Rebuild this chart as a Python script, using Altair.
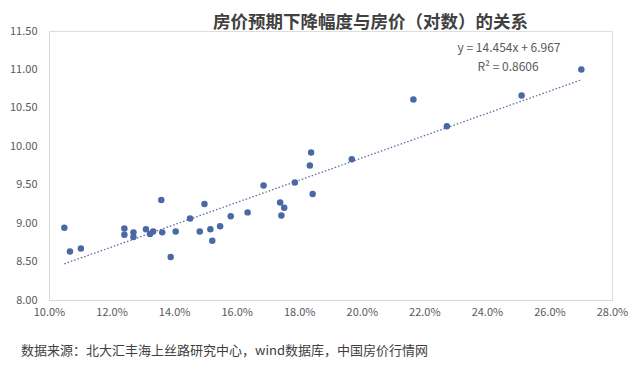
import altair as alt
import pandas as pd

decline = [0.1049, 0.1067, 0.1102, 0.1241, 0.1241, 0.1270, 0.1270, 0.1310, 0.1323, 0.1333,
           0.1359, 0.1362, 0.1389, 0.1405, 0.1451, 0.1482, 0.1497, 0.1516, 0.1522, 0.1547,
           0.1581, 0.1635, 0.1686, 0.1739, 0.1752, 0.1743, 0.1786, 0.1834, 0.1838, 0.1843,
           0.1968, 0.2165, 0.2272, 0.2511, 0.2702]
log_price = [8.94, 8.63, 8.67, 8.93, 8.85, 8.88, 8.82, 8.92, 8.86, 8.89,
             9.30, 8.88, 8.56, 8.89, 9.06, 8.89, 9.25, 8.92, 8.77, 8.96,
             9.09, 9.14, 9.49, 9.27, 9.20, 9.10, 9.53, 9.75, 9.92, 9.38,
             9.83, 10.61, 10.26, 10.66, 11.00]

title_text = "房价预期下降幅度与房价（对数）的关系"
eq_text = "y = 14.454x + 6.967"
r2_text = "R² = 0.8606"
source_text = "数据来源：北大汇丰海上丝路研究中心，wind数据库，中国房价行情网"
y_ticks = [8.0, 8.5, 9.0, 9.5, 10.0, 10.5, 11.0, 11.5]
x_ticks = [0.10, 0.12, 0.14, 0.16, 0.18, 0.20, 0.22, 0.24, 0.26, 0.28]

df = pd.DataFrame({"decline": decline, "logp": log_price})

font = "Noto Sans CJK SC"

xs = alt.X("decline:Q", scale=alt.Scale(domain=[0.10, 0.28], nice=False, zero=False),
           axis=alt.Axis(values=x_ticks, format=".1%", title=None, grid=False, ticks=False,
                         domainColor="#d9d9d9", labelColor="#595959", labelFontSize=11,
                         labelFont=font, labelPadding=6, labelFlush=False))
ys = alt.Y("logp:Q", scale=alt.Scale(domain=[8.0, 11.5], nice=False, zero=False),
           axis=alt.Axis(values=y_ticks, format=".2f", title=None, grid=False, ticks=False,
                         domainColor="#d9d9d9", labelColor="#595959", labelFontSize=11,
                         labelFont=font, labelPadding=12, labelFlush=False))

base = alt.Chart(df)

points = base.mark_circle(size=42, opacity=1, color="#4a67a6").encode(x=xs, y=ys)

trend = base.transform_regression("decline", "logp").mark_line(
    color="#5a6e9c", strokeDash=[1.5, 2], strokeWidth=1.3
).encode(x=xs, y=ys)

eq = alt.Chart(pd.DataFrame({"t": [eq_text]})).mark_text(
    font=font, fontSize=12, color="#595959", align="center"
).encode(text="t:N", x=alt.value(460), y=alt.value(17))
r2 = alt.Chart(pd.DataFrame({"t": [r2_text]})).mark_text(
    font=font, fontSize=12, color="#595959", align="center"
).encode(text="t:N", x=alt.value(459), y=alt.value(36))
src = alt.Chart(pd.DataFrame({"t": [source_text]})).mark_text(
    font=font, fontSize=13, color="#404040", align="left"
).encode(text="t:N", x=alt.value(-28), y=alt.value(320))

chart = alt.layer(trend, points, eq, r2, src).properties(
    width=563, height=269,
    title=alt.TitleParams(title_text, font=font, fontSize=17.5, fontWeight="bold",
                          color="#404040", anchor="middle", dx=40, offset=-6),
    padding={"left": 41, "top": 23, "right": 20, "bottom": 60},
    autosize=alt.AutoSizeParams(type="none"),
).configure_view(stroke=None).configure(background="white")

chart.save("out.html", embed_options={"renderer": "svg", "actions": False})
